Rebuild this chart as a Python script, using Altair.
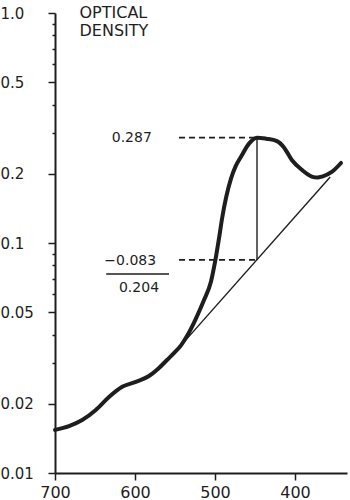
import altair as alt
import pandas as pd

# Absorption curve (wavelength in nm, optical density)
wavelength = [700, 682.5, 666, 649, 632.5, 616, 599, 582.5, 571, 560, 551,
              542.5, 535, 524, 514, 505, 500, 495, 491, 486, 480, 474,
              467.5, 457.5, 447.5, 436, 422.5, 414, 404, 391, 379, 372, 366,
              354, 342.5]
density = [0.0154, 0.0160, 0.0170, 0.0188, 0.0214, 0.0237, 0.0249, 0.0264,
           0.0284, 0.0310, 0.0333, 0.0359, 0.0394, 0.0468, 0.0562, 0.0680,
           0.0825, 0.1047, 0.1288, 0.1585, 0.1905, 0.2163, 0.2371, 0.2704,
           0.287, 0.284, 0.2774, 0.261, 0.2296, 0.2075, 0.1945, 0.1925,
           0.1945, 0.2036, 0.2228]

# Baseline (tangent) drawn under the peak
base_wl = [551, 356]
base_od = [0.0332, 0.1936]

# Peak measurement
peak_wl = 447.5
peak_od = 0.287
base_at_peak = 0.0845

# Leader (dashed) lines
lead_group = ["top", "top", "low", "low"]
lead_wl = [545, peak_wl, 545, peak_wl]
lead_od = [peak_od, peak_od, base_at_peak, base_at_peak]

# Annotation texts
note_text = ["0.287", "\u22120.083", "0.204"]
note_wl = [604, 606, 595]
note_od = [0.287, 0.0835, 0.0637]
frac_wl = [636, 557.5]
frac_od = [0.0733, 0.0733]

major_y = [0.01, 0.02, 0.05, 0.1, 0.2, 0.5, 1.0]
minor_y = [0.03, 0.04, 0.06, 0.07, 0.08, 0.09, 0.3, 0.4, 0.6, 0.7, 0.8, 0.9]
x_ticks = [700, 600, 500, 400]

INK = "#1e1e1e"
FONT = "DejaVu Sans"

curve_df = pd.DataFrame({"wl": wavelength, "od": density})
base_df = pd.DataFrame({"wl": base_wl, "od": base_od})
vert_df = pd.DataFrame({"wl": [peak_wl, peak_wl], "od": [base_at_peak, peak_od]})
lead_df = pd.DataFrame({"g": lead_group, "wl": lead_wl, "od": lead_od})
note_df = pd.DataFrame({"t": note_text, "wl": note_wl, "od": note_od})
frac_df = pd.DataFrame({"wl": frac_wl, "od": frac_od})

xs = alt.Scale(domain=[335, 700], reverse=True, nice=False, zero=False)
ys = alt.Scale(type="log", domain=[0.01, 1.0], nice=False)

main_x_axis = alt.Axis(values=x_ticks, tickSize=7, tickWidth=1.5, tickColor=INK,
                       domainWidth=2, domainColor=INK, labelFont=FONT,
                       labelFontSize=16, labelColor=INK, labelPadding=4,
                       labelFlush=False, labelOverlap=False, grid=False, title="")
main_y_axis = alt.Axis(values=major_y,
                       labelExpr="datum.value >= 1 ? '1.0' : toString(datum.value)",
                       labelAlign="left", labelBaseline="middle", labelPadding=48,
                       labelFlush=False, labelOverlap=False,
                       tickSize=7, tickWidth=1.5, tickColor=INK,
                       domainWidth=2, domainColor=INK,
                       labelFont=FONT, labelFontSize=15, labelColor=INK, grid=False,
                       title=["OPTICAL", "DENSITY"], titleAngle=0, titleAlign="left",
                       titleBaseline="top", titleX=24, titleY=-9, titleFont=FONT,
                       titleFontSize=16, titleFontWeight="normal", titleColor=INK,
                       titleLineHeight=18)
minor_y_axis = alt.Axis(values=minor_y, orient="left", labels=False, domain=False,
                        tickSize=3, tickWidth=1.5, tickColor=INK, grid=False, title="")

curve = alt.Chart(curve_df).mark_line(
    color=INK, strokeWidth=4, interpolate="monotone", strokeCap="round",
    strokeJoin="round"
).encode(
    x=alt.X("wl:Q", scale=xs, axis=main_x_axis),
    y=alt.Y("od:Q", scale=ys, axis=main_y_axis),
    order=alt.Order("wl:Q", sort="descending"),
)

baseline = alt.Chart(base_df).mark_line(color=INK, strokeWidth=1.4).encode(
    x=alt.X("wl:Q", scale=xs, axis=None),
    y=alt.Y("od:Q", scale=ys, axis=minor_y_axis),
)

vertical = alt.Chart(vert_df).mark_line(color=INK, strokeWidth=1.4).encode(
    x=alt.X("wl:Q", scale=xs, axis=None),
    y=alt.Y("od:Q", scale=ys, axis=None),
)

leaders = alt.Chart(lead_df).mark_line(color=INK, strokeWidth=1.8, strokeDash=[6, 4]).encode(
    x=alt.X("wl:Q", scale=xs, axis=None),
    y=alt.Y("od:Q", scale=ys, axis=None),
    detail="g:N",
)

notes = alt.Chart(note_df).mark_text(
    font=FONT, fontSize=14, color=INK, align="center", baseline="middle"
).encode(
    x=alt.X("wl:Q", scale=xs, axis=None),
    y=alt.Y("od:Q", scale=ys, axis=None),
    text="t:N",
)

frac = alt.Chart(frac_df).mark_line(color=INK, strokeWidth=1.5).encode(
    x=alt.X("wl:Q", scale=xs, axis=None),
    y=alt.Y("od:Q", scale=ys, axis=None),
)

chart = alt.layer(curve, baseline, vertical, leaders, notes, frac).resolve_axis(
    x="independent", y="independent"
).properties(
    width=292, height=460,
    padding={"left": 55, "top": 13, "right": 3, "bottom": 27},
    autosize=alt.AutoSizeParams(type="none"),
    background="white",
).configure_view(stroke="transparent")

chart.save("out.html", embed_options={"renderer": "svg", "actions": False})
